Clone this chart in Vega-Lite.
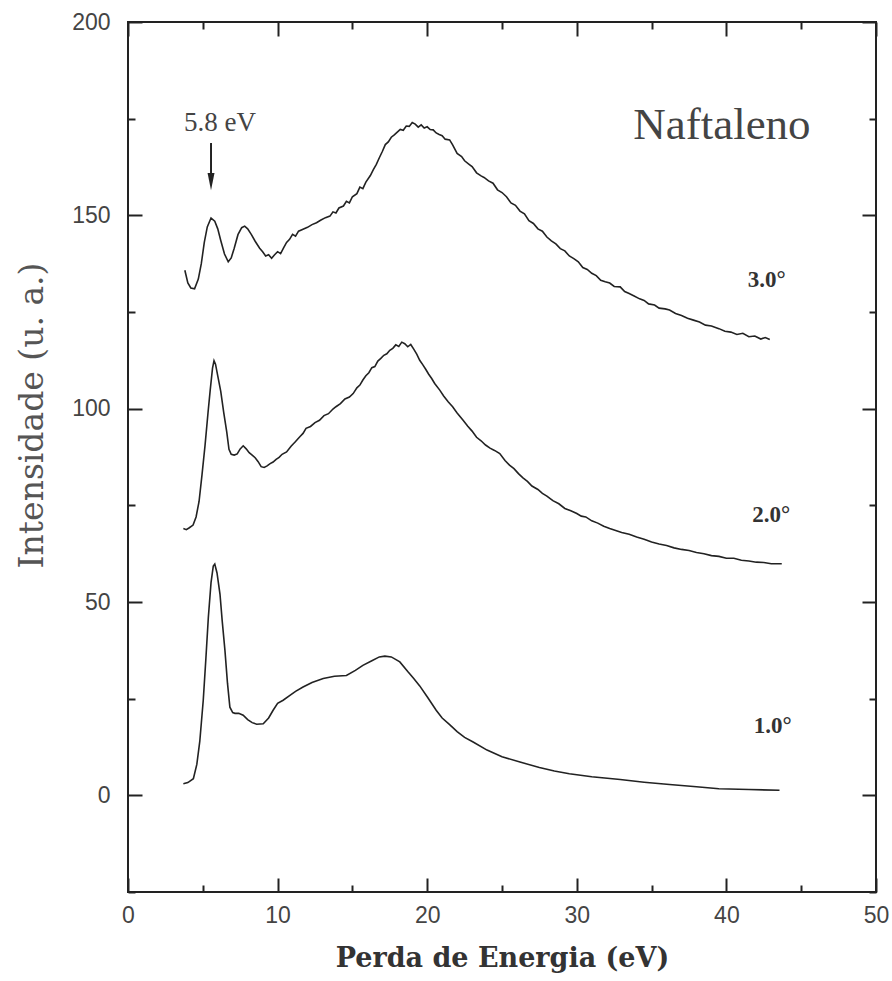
{
  "$schema": "https://vega.github.io/schema/vega-lite/v6.json",
  "width": 748,
  "height": 870,
  "autosize": {"type": "none"},
  "padding": {"left": 128, "top": 22, "right": 16, "bottom": 89},
  "background": "#ffffff",
  "config": {
    "view": {"stroke": "#222222", "strokeWidth": 2},
    "axis": {"grid": false, "domain": false}
  },
  "datasets": {
    "curves": [
      {"serie": "3.0", "E": 3.8, "I": 135.8}, {"serie": "3.0", "E": 4.0, "I": 132.5}, {"serie": "3.0", "E": 4.2, "I": 131.2}, {"serie": "3.0", "E": 4.45, "I": 131.0}, {"serie": "3.0", "E": 4.7, "I": 133.5}, {"serie": "3.0", "E": 4.9, "I": 137.5}, {"serie": "3.0", "E": 5.1, "I": 143.0}, {"serie": "3.0", "E": 5.3, "I": 147.0}, {"serie": "3.0", "E": 5.55, "I": 149.3}, {"serie": "3.0", "E": 5.8, "I": 148.5}, {"serie": "3.0", "E": 6.0, "I": 146.5}, {"serie": "3.0", "E": 6.2, "I": 143.5}, {"serie": "3.0", "E": 6.45, "I": 140.0}, {"serie": "3.0", "E": 6.7, "I": 138.0}, {"serie": "3.0", "E": 6.9, "I": 139.0}, {"serie": "3.0", "E": 7.1, "I": 141.5}, {"serie": "3.0", "E": 7.35, "I": 145.0}, {"serie": "3.0", "E": 7.6, "I": 146.8}, {"serie": "3.0", "E": 7.8, "I": 147.2}, {"serie": "3.0", "E": 8.0, "I": 146.5}, {"serie": "3.0", "E": 8.25, "I": 145.0}, {"serie": "3.0", "E": 8.5, "I": 143.3}, {"serie": "3.0", "E": 8.8, "I": 141.5}, {"serie": "3.0", "E": 9.0, "I": 140.6}, {"serie": "3.0", "E": 9.2, "I": 139.5}, {"serie": "3.0", "E": 9.4, "I": 139.8}, {"serie": "3.0", "E": 9.6, "I": 138.9}, {"serie": "3.0", "E": 9.8, "I": 139.8}, {"serie": "3.0", "E": 10.0, "I": 140.6}, {"serie": "3.0", "E": 10.2, "I": 140.1}, {"serie": "3.0", "E": 10.4, "I": 141.6}, {"serie": "3.0", "E": 10.6, "I": 143.0}, {"serie": "3.0", "E": 10.8, "I": 143.8}, {"serie": "3.0", "E": 11.0, "I": 145.1}, {"serie": "3.0", "E": 11.2, "I": 144.6}, {"serie": "3.0", "E": 11.4, "I": 145.9}, {"serie": "3.0", "E": 11.7, "I": 146.4}, {"serie": "3.0", "E": 12.0, "I": 146.9}, {"serie": "3.0", "E": 12.3, "I": 147.6}, {"serie": "3.0", "E": 12.6, "I": 148.1}, {"serie": "3.0", "E": 12.9, "I": 148.8}, {"serie": "3.0", "E": 13.2, "I": 149.4}, {"serie": "3.0", "E": 13.5, "I": 149.8}, {"serie": "3.0", "E": 13.7, "I": 150.9}, {"serie": "3.0", "E": 13.9, "I": 150.6}, {"serie": "3.0", "E": 14.1, "I": 151.9}, {"serie": "3.0", "E": 14.4, "I": 152.4}, {"serie": "3.0", "E": 14.6, "I": 153.6}, {"serie": "3.0", "E": 14.8, "I": 153.2}, {"serie": "3.0", "E": 15.0, "I": 154.8}, {"serie": "3.0", "E": 15.3, "I": 155.6}, {"serie": "3.0", "E": 15.5, "I": 157.3}, {"serie": "3.0", "E": 15.7, "I": 156.9}, {"serie": "3.0", "E": 15.9, "I": 158.6}, {"serie": "3.0", "E": 16.2, "I": 160.3}, {"serie": "3.0", "E": 16.4, "I": 161.8}, {"serie": "3.0", "E": 16.6, "I": 163.2}, {"serie": "3.0", "E": 16.8, "I": 164.9}, {"serie": "3.0", "E": 17.0, "I": 166.5}, {"serie": "3.0", "E": 17.2, "I": 168.3}, {"serie": "3.0", "E": 17.4, "I": 169.0}, {"serie": "3.0", "E": 17.6, "I": 170.2}, {"serie": "3.0", "E": 17.8, "I": 170.8}, {"serie": "3.0", "E": 18.0, "I": 171.5}, {"serie": "3.0", "E": 18.2, "I": 172.2}, {"serie": "3.0", "E": 18.4, "I": 172.0}, {"serie": "3.0", "E": 18.6, "I": 173.1}, {"serie": "3.0", "E": 18.8, "I": 173.0}, {"serie": "3.0", "E": 19.0, "I": 174.0}, {"serie": "3.0", "E": 19.2, "I": 173.6}, {"serie": "3.0", "E": 19.4, "I": 172.8}, {"serie": "3.0", "E": 19.6, "I": 173.4}, {"serie": "3.0", "E": 19.8, "I": 172.6}, {"serie": "3.0", "E": 20.0, "I": 172.9}, {"serie": "3.0", "E": 20.2, "I": 172.2}, {"serie": "3.0", "E": 20.4, "I": 172.1}, {"serie": "3.0", "E": 20.6, "I": 171.3}, {"serie": "3.0", "E": 20.8, "I": 170.9}, {"serie": "3.0", "E": 21.0, "I": 170.6}, {"serie": "3.0", "E": 21.2, "I": 169.7}, {"serie": "3.0", "E": 21.5, "I": 169.5}, {"serie": "3.0", "E": 21.7, "I": 168.2}, {"serie": "3.0", "E": 22.0, "I": 166.0}, {"serie": "3.0", "E": 22.3, "I": 165.2}, {"serie": "3.0", "E": 22.5, "I": 164.1}, {"serie": "3.0", "E": 22.8, "I": 163.2}, {"serie": "3.0", "E": 23.0, "I": 162.6}, {"serie": "3.0", "E": 23.3, "I": 161.0}, {"serie": "3.0", "E": 23.6, "I": 160.2}, {"serie": "3.0", "E": 23.8, "I": 159.8}, {"serie": "3.0", "E": 24.1, "I": 158.9}, {"serie": "3.0", "E": 24.4, "I": 158.3}, {"serie": "3.0", "E": 24.7, "I": 156.6}, {"serie": "3.0", "E": 25.0, "I": 155.9}, {"serie": "3.0", "E": 25.3, "I": 154.8}, {"serie": "3.0", "E": 25.6, "I": 153.2}, {"serie": "3.0", "E": 25.9, "I": 152.6}, {"serie": "3.0", "E": 26.2, "I": 151.1}, {"serie": "3.0", "E": 26.5, "I": 150.4}, {"serie": "3.0", "E": 26.8, "I": 148.6}, {"serie": "3.0", "E": 27.1, "I": 147.9}, {"serie": "3.0", "E": 27.4, "I": 146.5}, {"serie": "3.0", "E": 27.7, "I": 145.9}, {"serie": "3.0", "E": 28.0, "I": 144.4}, {"serie": "3.0", "E": 28.3, "I": 143.4}, {"serie": "3.0", "E": 28.6, "I": 142.6}, {"serie": "3.0", "E": 28.9, "I": 141.4}, {"serie": "3.0", "E": 29.2, "I": 140.8}, {"serie": "3.0", "E": 29.5, "I": 139.5}, {"serie": "3.0", "E": 29.8, "I": 138.8}, {"serie": "3.0", "E": 30.1, "I": 138.0}, {"serie": "3.0", "E": 30.4, "I": 136.5}, {"serie": "3.0", "E": 30.7, "I": 136.0}, {"serie": "3.0", "E": 31.0, "I": 135.0}, {"serie": "3.0", "E": 31.3, "I": 134.4}, {"serie": "3.0", "E": 31.6, "I": 133.2}, {"serie": "3.0", "E": 31.9, "I": 132.8}, {"serie": "3.0", "E": 32.2, "I": 132.5}, {"serie": "3.0", "E": 32.5, "I": 131.6}, {"serie": "3.0", "E": 32.9, "I": 131.5}, {"serie": "3.0", "E": 33.2, "I": 130.3}, {"serie": "3.0", "E": 33.5, "I": 129.8}, {"serie": "3.0", "E": 33.8, "I": 129.2}, {"serie": "3.0", "E": 34.2, "I": 128.4}, {"serie": "3.0", "E": 34.5, "I": 128.0}, {"serie": "3.0", "E": 34.8, "I": 127.1}, {"serie": "3.0", "E": 35.2, "I": 126.8}, {"serie": "3.0", "E": 35.5, "I": 126.0}, {"serie": "3.0", "E": 35.9, "I": 125.8}, {"serie": "3.0", "E": 36.2, "I": 125.5}, {"serie": "3.0", "E": 36.6, "I": 124.6}, {"serie": "3.0", "E": 37.0, "I": 124.1}, {"serie": "3.0", "E": 37.4, "I": 123.4}, {"serie": "3.0", "E": 37.8, "I": 122.9}, {"serie": "3.0", "E": 38.2, "I": 122.4}, {"serie": "3.0", "E": 38.6, "I": 121.6}, {"serie": "3.0", "E": 39.0, "I": 121.4}, {"serie": "3.0", "E": 39.5, "I": 120.7}, {"serie": "3.0", "E": 39.9, "I": 120.0}, {"serie": "3.0", "E": 40.3, "I": 119.8}, {"serie": "3.0", "E": 40.7, "I": 119.2}, {"serie": "3.0", "E": 41.1, "I": 119.5}, {"serie": "3.0", "E": 41.5, "I": 118.6}, {"serie": "3.0", "E": 41.9, "I": 118.8}, {"serie": "3.0", "E": 42.3, "I": 118.0}, {"serie": "3.0", "E": 42.6, "I": 118.4}, {"serie": "3.0", "E": 42.9, "I": 117.9},

      {"serie": "2.0", "E": 3.7, "I": 69.0}, {"serie": "2.0", "E": 3.9, "I": 68.7}, {"serie": "2.0", "E": 4.1, "I": 69.2}, {"serie": "2.0", "E": 4.35, "I": 69.9}, {"serie": "2.0", "E": 4.55, "I": 72.0}, {"serie": "2.0", "E": 4.75, "I": 76.0}, {"serie": "2.0", "E": 4.95, "I": 83.0}, {"serie": "2.0", "E": 5.15, "I": 90.5}, {"serie": "2.0", "E": 5.35, "I": 99.0}, {"serie": "2.0", "E": 5.5, "I": 105.0}, {"serie": "2.0", "E": 5.65, "I": 110.5}, {"serie": "2.0", "E": 5.75, "I": 112.4}, {"serie": "2.0", "E": 5.85, "I": 111.5}, {"serie": "2.0", "E": 6.0, "I": 108.5}, {"serie": "2.0", "E": 6.2, "I": 104.5}, {"serie": "2.0", "E": 6.4, "I": 99.0}, {"serie": "2.0", "E": 6.6, "I": 94.0}, {"serie": "2.0", "E": 6.75, "I": 89.5}, {"serie": "2.0", "E": 6.9, "I": 88.2}, {"serie": "2.0", "E": 7.1, "I": 88.0}, {"serie": "2.0", "E": 7.3, "I": 88.3}, {"serie": "2.0", "E": 7.5, "I": 89.6}, {"serie": "2.0", "E": 7.7, "I": 90.4}, {"serie": "2.0", "E": 7.9, "I": 89.6}, {"serie": "2.0", "E": 8.1, "I": 88.6}, {"serie": "2.0", "E": 8.3, "I": 88.0}, {"serie": "2.0", "E": 8.5, "I": 87.3}, {"serie": "2.0", "E": 8.7, "I": 86.3}, {"serie": "2.0", "E": 8.9, "I": 85.0}, {"serie": "2.0", "E": 9.1, "I": 84.8}, {"serie": "2.0", "E": 9.3, "I": 85.2}, {"serie": "2.0", "E": 9.5, "I": 85.8}, {"serie": "2.0", "E": 9.7, "I": 86.2}, {"serie": "2.0", "E": 9.9, "I": 86.9}, {"serie": "2.0", "E": 10.1, "I": 87.4}, {"serie": "2.0", "E": 10.3, "I": 88.2}, {"serie": "2.0", "E": 10.6, "I": 88.8}, {"serie": "2.0", "E": 10.9, "I": 90.3}, {"serie": "2.0", "E": 11.2, "I": 91.5}, {"serie": "2.0", "E": 11.5, "I": 92.8}, {"serie": "2.0", "E": 11.7, "I": 93.6}, {"serie": "2.0", "E": 11.9, "I": 94.9}, {"serie": "2.0", "E": 12.2, "I": 95.4}, {"serie": "2.0", "E": 12.5, "I": 96.4}, {"serie": "2.0", "E": 12.8, "I": 97.0}, {"serie": "2.0", "E": 13.1, "I": 98.2}, {"serie": "2.0", "E": 13.4, "I": 98.7}, {"serie": "2.0", "E": 13.7, "I": 99.9}, {"serie": "2.0", "E": 13.9, "I": 100.5}, {"serie": "2.0", "E": 14.2, "I": 101.3}, {"serie": "2.0", "E": 14.5, "I": 102.5}, {"serie": "2.0", "E": 14.8, "I": 103.0}, {"serie": "2.0", "E": 15.05, "I": 103.9}, {"serie": "2.0", "E": 15.3, "I": 105.4}, {"serie": "2.0", "E": 15.5, "I": 106.1}, {"serie": "2.0", "E": 15.7, "I": 107.4}, {"serie": "2.0", "E": 15.9, "I": 108.5}, {"serie": "2.0", "E": 16.1, "I": 109.3}, {"serie": "2.0", "E": 16.3, "I": 110.6}, {"serie": "2.0", "E": 16.5, "I": 110.9}, {"serie": "2.0", "E": 16.7, "I": 112.3}, {"serie": "2.0", "E": 16.9, "I": 113.0}, {"serie": "2.0", "E": 17.1, "I": 113.8}, {"serie": "2.0", "E": 17.3, "I": 114.2}, {"serie": "2.0", "E": 17.5, "I": 115.1}, {"serie": "2.0", "E": 17.7, "I": 115.6}, {"serie": "2.0", "E": 17.9, "I": 116.5}, {"serie": "2.0", "E": 18.1, "I": 116.1}, {"serie": "2.0", "E": 18.3, "I": 117.2}, {"serie": "2.0", "E": 18.5, "I": 116.8}, {"serie": "2.0", "E": 18.7, "I": 116.0}, {"serie": "2.0", "E": 18.9, "I": 116.6}, {"serie": "2.0", "E": 19.1, "I": 115.4}, {"serie": "2.0", "E": 19.3, "I": 114.1}, {"serie": "2.0", "E": 19.5, "I": 112.5}, {"serie": "2.0", "E": 19.7, "I": 111.4}, {"serie": "2.0", "E": 19.9, "I": 110.2}, {"serie": "2.0", "E": 20.1, "I": 108.9}, {"serie": "2.0", "E": 20.3, "I": 107.8}, {"serie": "2.0", "E": 20.5, "I": 106.5}, {"serie": "2.0", "E": 20.84, "I": 104.8}, {"serie": "2.0", "E": 21.1, "I": 103.3}, {"serie": "2.0", "E": 21.4, "I": 101.8}, {"serie": "2.0", "E": 21.7, "I": 100.5}, {"serie": "2.0", "E": 22.0, "I": 98.9}, {"serie": "2.0", "E": 22.4, "I": 97.0}, {"serie": "2.0", "E": 22.7, "I": 95.5}, {"serie": "2.0", "E": 23.0, "I": 94.2}, {"serie": "2.0", "E": 23.3, "I": 92.6}, {"serie": "2.0", "E": 23.6, "I": 91.7}, {"serie": "2.0", "E": 23.9, "I": 90.6}, {"serie": "2.0", "E": 24.2, "I": 89.8}, {"serie": "2.0", "E": 24.5, "I": 89.2}, {"serie": "2.0", "E": 24.85, "I": 88.4}, {"serie": "2.0", "E": 25.2, "I": 86.6}, {"serie": "2.0", "E": 25.5, "I": 85.4}, {"serie": "2.0", "E": 25.8, "I": 84.5}, {"serie": "2.0", "E": 26.1, "I": 83.2}, {"serie": "2.0", "E": 26.4, "I": 82.1}, {"serie": "2.0", "E": 26.7, "I": 81.2}, {"serie": "2.0", "E": 27.0, "I": 80.0}, {"serie": "2.0", "E": 27.4, "I": 79.1}, {"serie": "2.0", "E": 27.7, "I": 78.1}, {"serie": "2.0", "E": 28.0, "I": 77.4}, {"serie": "2.0", "E": 28.4, "I": 76.2}, {"serie": "2.0", "E": 28.8, "I": 75.4}, {"serie": "2.0", "E": 29.2, "I": 74.2}, {"serie": "2.0", "E": 29.6, "I": 73.6}, {"serie": "2.0", "E": 30.0, "I": 72.9}, {"serie": "2.0", "E": 30.3, "I": 72.2}, {"serie": "2.0", "E": 30.6, "I": 72.0}, {"serie": "2.0", "E": 31.0, "I": 71.0}, {"serie": "2.0", "E": 31.4, "I": 70.4}, {"serie": "2.0", "E": 31.8, "I": 69.6}, {"serie": "2.0", "E": 32.2, "I": 69.0}, {"serie": "2.0", "E": 32.6, "I": 68.5}, {"serie": "2.0", "E": 33.0, "I": 68.0}, {"serie": "2.0", "E": 33.5, "I": 67.5}, {"serie": "2.0", "E": 34.0, "I": 66.8}, {"serie": "2.0", "E": 34.5, "I": 66.2}, {"serie": "2.0", "E": 35.0, "I": 65.5}, {"serie": "2.0", "E": 35.5, "I": 65.0}, {"serie": "2.0", "E": 36.0, "I": 64.6}, {"serie": "2.0", "E": 36.5, "I": 64.0}, {"serie": "2.0", "E": 37.0, "I": 63.6}, {"serie": "2.0", "E": 37.5, "I": 63.3}, {"serie": "2.0", "E": 38.0, "I": 62.8}, {"serie": "2.0", "E": 38.5, "I": 62.5}, {"serie": "2.0", "E": 39.0, "I": 62.0}, {"serie": "2.0", "E": 39.5, "I": 61.8}, {"serie": "2.0", "E": 40.0, "I": 61.3}, {"serie": "2.0", "E": 40.5, "I": 61.3}, {"serie": "2.0", "E": 41.0, "I": 60.8}, {"serie": "2.0", "E": 41.5, "I": 60.6}, {"serie": "2.0", "E": 42.0, "I": 60.3}, {"serie": "2.0", "E": 42.5, "I": 60.2}, {"serie": "2.0", "E": 43.0, "I": 59.9}, {"serie": "2.0", "E": 43.7, "I": 59.9},

      {"serie": "1.0", "E": 3.7, "I": 3.0}, {"serie": "1.0", "E": 4.0, "I": 3.3}, {"serie": "1.0", "E": 4.37, "I": 4.3}, {"serie": "1.0", "E": 4.6, "I": 8.0}, {"serie": "1.0", "E": 4.8, "I": 14.0}, {"serie": "1.0", "E": 5.03, "I": 24.6}, {"serie": "1.0", "E": 5.2, "I": 35.0}, {"serie": "1.0", "E": 5.37, "I": 46.0}, {"serie": "1.0", "E": 5.55, "I": 55.0}, {"serie": "1.0", "E": 5.7, "I": 59.3}, {"serie": "1.0", "E": 5.8, "I": 59.8}, {"serie": "1.0", "E": 5.95, "I": 57.5}, {"serie": "1.0", "E": 6.15, "I": 52.0}, {"serie": "1.0", "E": 6.3, "I": 45.0}, {"serie": "1.0", "E": 6.48, "I": 37.5}, {"serie": "1.0", "E": 6.65, "I": 29.0}, {"serie": "1.0", "E": 6.81, "I": 22.8}, {"serie": "1.0", "E": 7.0, "I": 21.4}, {"serie": "1.0", "E": 7.15, "I": 21.2}, {"serie": "1.0", "E": 7.4, "I": 21.2}, {"serie": "1.0", "E": 7.7, "I": 20.7}, {"serie": "1.0", "E": 8.0, "I": 19.6}, {"serie": "1.0", "E": 8.3, "I": 18.8}, {"serie": "1.0", "E": 8.6, "I": 18.4}, {"serie": "1.0", "E": 9.04, "I": 18.5}, {"serie": "1.0", "E": 9.4, "I": 20.0}, {"serie": "1.0", "E": 9.7, "I": 22.0}, {"serie": "1.0", "E": 10.0, "I": 23.8}, {"serie": "1.0", "E": 10.37, "I": 24.6}, {"serie": "1.0", "E": 10.8, "I": 25.8}, {"serie": "1.0", "E": 11.2, "I": 26.9}, {"serie": "1.0", "E": 11.7, "I": 28.0}, {"serie": "1.0", "E": 12.3, "I": 29.2}, {"serie": "1.0", "E": 13.05, "I": 30.2}, {"serie": "1.0", "E": 13.8, "I": 30.8}, {"serie": "1.0", "E": 14.6, "I": 31.0}, {"serie": "1.0", "E": 15.2, "I": 32.3}, {"serie": "1.0", "E": 15.7, "I": 33.6}, {"serie": "1.0", "E": 16.3, "I": 34.8}, {"serie": "1.0", "E": 16.8, "I": 35.8}, {"serie": "1.0", "E": 17.17, "I": 36.0}, {"serie": "1.0", "E": 17.6, "I": 35.8}, {"serie": "1.0", "E": 18.17, "I": 34.5}, {"serie": "1.0", "E": 18.7, "I": 32.0}, {"serie": "1.0", "E": 19.1, "I": 30.2}, {"serie": "1.0", "E": 19.5, "I": 28.3}, {"serie": "1.0", "E": 20.0, "I": 25.5}, {"serie": "1.0", "E": 20.6, "I": 22.0}, {"serie": "1.0", "E": 21.0, "I": 20.0}, {"serie": "1.0", "E": 21.5, "I": 18.3}, {"serie": "1.0", "E": 22.0, "I": 16.5}, {"serie": "1.0", "E": 22.5, "I": 15.0}, {"serie": "1.0", "E": 23.07, "I": 13.8}, {"serie": "1.0", "E": 24.0, "I": 11.7}, {"serie": "1.0", "E": 25.0, "I": 10.0}, {"serie": "1.0", "E": 26.2, "I": 8.6}, {"serie": "1.0", "E": 27.5, "I": 7.2}, {"serie": "1.0", "E": 28.5, "I": 6.3}, {"serie": "1.0", "E": 29.5, "I": 5.6}, {"serie": "1.0", "E": 31.0, "I": 4.8}, {"serie": "1.0", "E": 32.9, "I": 4.1}, {"serie": "1.0", "E": 34.5, "I": 3.4}, {"serie": "1.0", "E": 36.2, "I": 2.8}, {"serie": "1.0", "E": 38.0, "I": 2.2}, {"serie": "1.0", "E": 39.5, "I": 1.7}, {"serie": "1.0", "E": 41.5, "I": 1.5}, {"serie": "1.0", "E": 43.55, "I": 1.3}
    ],
    "labels": [
      {"E": 42.7, "I": 133.2, "txt": "3.0°"},
      {"E": 43.0, "I": 72.4, "txt": "2.0°"},
      {"E": 43.1, "I": 17.9, "txt": "1.0°"}
    ],
    "title": [{"E": 39.7, "I": 173.4, "txt": "Naftaleno"}],
    "note": [{"E": 6.15, "I": 174.0, "txt": "5.8 eV"}],
    "arrow": [{"E": 5.55, "I": 168.7, "I2": 160.5}],
    "head": [{"E": 5.55, "I": 158.7}]
  },
  "layer": [
    {
      "data": {"name": "curves"},
      "mark": {"type": "line", "color": "#222222", "strokeWidth": 1.6, "interpolate": "linear"},
      "encoding": {
        "x": {
          "field": "E", "type": "quantitative",
          "scale": {"domain": [0, 50], "nice": false, "zero": false},
          "axis": {
            "orient": "bottom",
            "values": [0, 5, 10, 15, 20, 25, 30, 35, 40, 45, 50],
            "labelExpr": "datum.value % 10 == 0 ? datum.label : ''",
            "tickSize": {"condition": {"test": "datum.value % 10 == 0", "value": -14}, "value": -7},
            "tickWidth": 2, "tickColor": "#222222",
            "labelFont": "Liberation Sans", "labelFontSize": 23, "labelColor": "#444444",
            "labelPadding": 26,
            "labelFlush": false,
            "title": "Perda de Energia (eV)",
            "titleFont": "DejaVu Serif", "titleFontSize": 27, "titleFontWeight": "bold",
            "titleColor": "#333333", "titleY": 66, "titleBaseline": "middle"
          }
        },
        "y": {
          "field": "I", "type": "quantitative",
          "scale": {"domain": [-25, 200], "nice": false, "zero": false},
          "axis": {
            "orient": "left",
            "values": [-25, 0, 25, 50, 75, 100, 125, 150, 175, 200],
            "labelExpr": "datum.value % 50 == 0 ? datum.label : ''",
            "tickSize": {"condition": {"test": "datum.value % 50 == 0", "value": -14}, "value": -7},
            "tickWidth": 2, "tickColor": "#222222",
            "labelFont": "Liberation Sans", "labelFontSize": 23, "labelColor": "#444444",
            "labelPadding": 32,
            "labelFlush": false,
            "title": "Intensidade (u. a.)",
            "titleFont": "DejaVu Serif", "titleFontSize": 33, "titleFontWeight": "normal",
            "titleColor": "#555555",
            "titleX": -96, "titleY": 393, "titleBaseline": "middle", "titleAlign": "center"
          }
        },
        "detail": {"field": "serie"}
      }
    },
    {
      "data": {"name": "arrow"},
      "mark": {"type": "rule", "color": "#222222", "strokeWidth": 2},
      "encoding": {
        "x": {
          "field": "E", "type": "quantitative",
          "axis": {
            "orient": "top",
            "values": [0, 5, 10, 15, 20, 25, 30, 35, 40, 45, 50],
            "labels": false,
            "tickSize": {"condition": {"test": "datum.value % 10 == 0", "value": -14}, "value": -7},
            "tickWidth": 2, "tickColor": "#222222",
            "title": null
          }
        },
        "y": {
          "field": "I", "type": "quantitative",
          "axis": {
            "orient": "right",
            "values": [-25, 0, 25, 50, 75, 100, 125, 150, 175, 200],
            "labels": false,
            "tickSize": {"condition": {"test": "datum.value % 50 == 0", "value": -14}, "value": -7},
            "tickWidth": 2, "tickColor": "#222222",
            "title": null
          }
        },
        "y2": {"field": "I2"}
      }
    },
    {
      "data": {"name": "head"},
      "mark": {"type": "point", "shape": "M -0.4 -1 L 0.4 -1 L 0 1 Z", "filled": true, "color": "#222222", "opacity": 1, "size": 300},
      "encoding": {
        "x": {"field": "E", "type": "quantitative", "axis": null},
        "y": {"field": "I", "type": "quantitative", "axis": null}
      }
    },
    {
      "data": {"name": "labels"},
      "mark": {"type": "text", "font": "Liberation Serif", "fontSize": 23, "fontWeight": "bold", "color": "#333333", "align": "center", "baseline": "middle"},
      "encoding": {
        "x": {"field": "E", "type": "quantitative", "axis": null},
        "y": {"field": "I", "type": "quantitative", "axis": null},
        "text": {"field": "txt"}
      }
    },
    {
      "data": {"name": "title"},
      "mark": {"type": "text", "font": "Liberation Serif", "fontSize": 45, "color": "#444444", "align": "center", "baseline": "middle"},
      "encoding": {
        "x": {"field": "E", "type": "quantitative", "axis": null},
        "y": {"field": "I", "type": "quantitative", "axis": null},
        "text": {"field": "txt"}
      }
    },
    {
      "data": {"name": "note"},
      "mark": {"type": "text", "font": "Liberation Serif", "fontSize": 27, "color": "#444444", "align": "center", "baseline": "middle"},
      "encoding": {
        "x": {"field": "E", "type": "quantitative", "axis": null},
        "y": {"field": "I", "type": "quantitative", "axis": null},
        "text": {"field": "txt"}
      }
    }
  ]
}
